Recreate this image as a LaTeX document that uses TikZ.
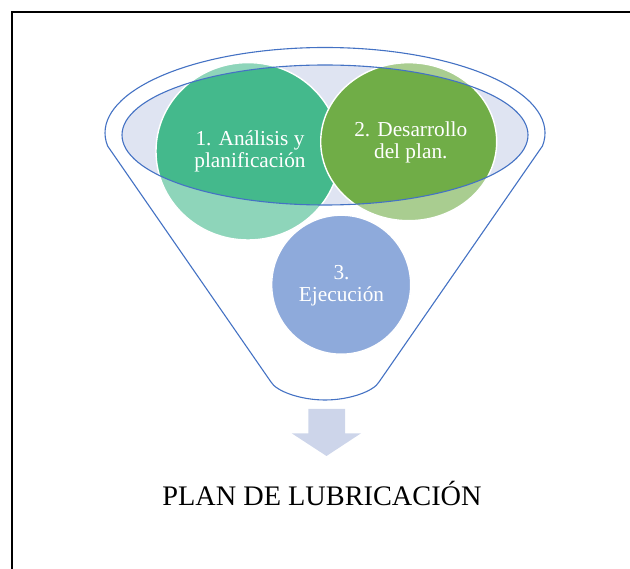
\documentclass[tikz,border=0pt]{standalone}
\usepackage{fontspec}
\setmainfont{Liberation Serif}
\definecolor{fnlblue}{HTML}{4472C4}
\definecolor{cgreenA}{HTML}{44B98C}
\definecolor{cgreenB}{HTML}{70AD47}
\definecolor{cblue}{HTML}{4472C4}
\definecolor{holefill}{HTML}{DFE4F2}
\definecolor{arrowfill}{HTML}{CDD5EA}
\begin{document}
\begin{tikzpicture}[x=1pt,y=-1pt,
  fnlline/.style={draw=fnlblue, line width=1.1pt},
  bubble/.style={draw=white, line width=1.4pt},
  bubbletext/.style={text=white, align=center, inner sep=0pt, font=\fontsize{21.3}{22}\selectfont}]
\useasboundingbox (0,0) rectangle (630,569);
% opening of the funnel
\fill[holefill] (325,135) ellipse [x radius=203pt, y radius=70pt];
% bubbles
\filldraw[bubble, fill=cgreenA] (248,151.3) ellipse [x radius=92pt, y radius=88.7pt];
\filldraw[bubble, fill=cgreenB] (408.7,141.7) ellipse [x radius=88pt, y radius=79pt];
\filldraw[bubble, fill=cblue] (341.2,284.7) ellipse [x radius=69.5pt, y radius=69.5pt];
% translucent funnel body
\fill[white, fill opacity=0.4, even odd rule]
  (107.6,146) arc[start angle=188.75, end angle=-8.75, x radius=220pt, y radius=85.5pt]
  -- (379,382) .. controls (374,391) and (350,400) .. (325,400)
  .. controls (300,400) and (276,391) .. (271,382) -- cycle
  (325,135) ellipse [x radius=203pt, y radius=70pt];
% texts
\node[bubbletext] (t1) at (250,151.5) {1. Análisis y\\planificación};
\node[bubbletext] (t2) at (410.8,142.5) {2. Desarrollo\\del plan.};
\node[bubbletext] (t3) at (341.5,286) {3.\\Ejecución};
% funnel outlines
\draw[fnlline]
  (107.6,146) arc[start angle=188.75, end angle=-8.75, x radius=220pt, y radius=85.5pt]
  -- (379,382) .. controls (374,391) and (350,400) .. (325,400)
  .. controls (300,400) and (276,391) .. (271,382) -- cycle;
\draw[fnlline] (325,135) ellipse [x radius=203pt, y radius=70pt];
% arrow
\fill[arrowfill] (308.3,409) -- (345,409) -- (345,433.3) -- (361,433.3) -- (326.5,456)
  -- (291.7,433.3) -- (308.3,433.3) -- cycle;
% result
\node[anchor=base, inner sep=0pt, font=\fontsize{28.3}{34}\selectfont] (title) at (322,505.7) {PLAN DE LUBRICACIÓN};
% frame
\draw[line width=2pt] (11.7,569) -- (11.7,11.7) -- (630,11.7);
\end{tikzpicture}
\end{document}
